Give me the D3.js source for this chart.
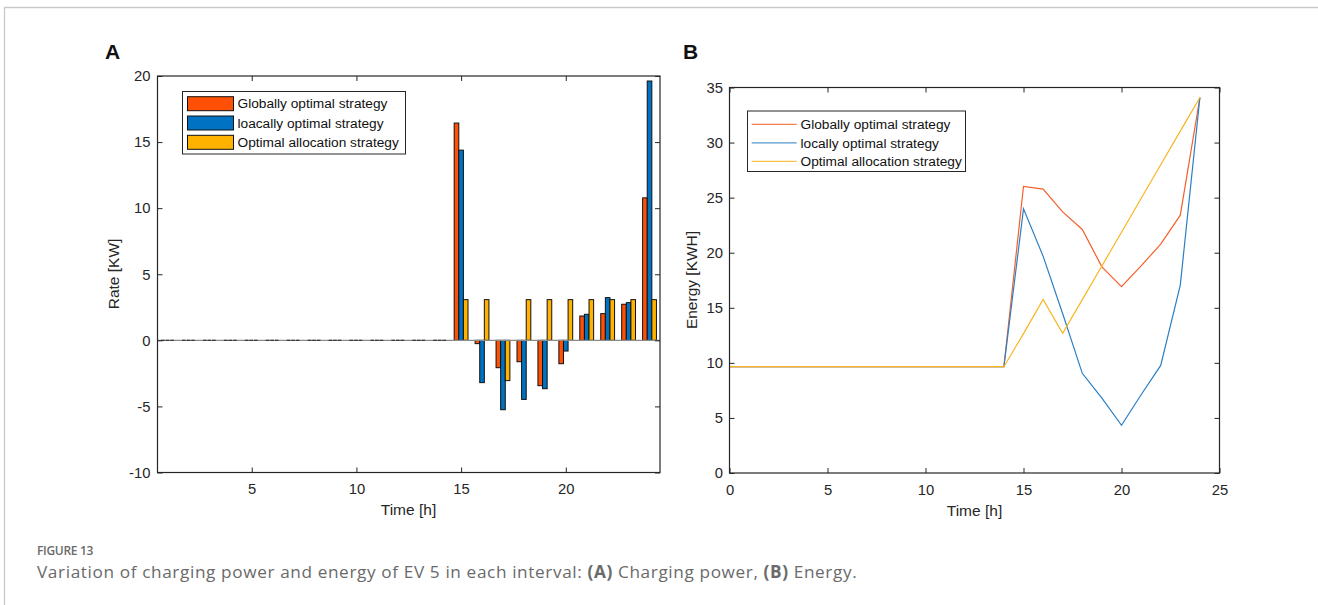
<!DOCTYPE html>
<html><head><meta charset="utf-8">
<script src="https://cdn.jsdelivr.net/npm/d3@7/dist/d3.min.js"></script>
<style>body{margin:0;background:#fff}svg{display:block}</style>
</head><body>
<svg id="c" width="1318" height="605"></svg>
<script>
// ---------- DATA ----------
const hours = [1,2,3,4,5,6,7,8,9,10,11,12,13,14,15,16,17,18,19,20,21,22,23,24];
const rateSeriesNames = ["Globally optimal strategy","loacally optimal strategy","Optimal allocation strategy"];
const globalRate = [0,0,0,0,0,0,0,0,0,0,0,0,0,0,16.44,-0.25,-2.07,-1.62,-3.43,-1.77,1.84,2.02,2.73,10.78];
const localRate  = [0,0,0,0,0,0,0,0,0,0,0,0,0,0,14.39,-3.2,-5.25,-4.47,-3.66,-0.81,1.97,3.23,2.85,19.62];
const allocRate  = [0,0,0,0,0,0,0,0,0,0,0,0,0,0,3.08,3.08,-3.05,3.08,3.08,3.08,3.08,3.08,3.08,3.08];

const times = [0,1,2,3,4,5,6,7,8,9,10,11,12,13,14,15,16,17,18,19,20,21,22,23,24];
const energySeriesNames = ["Globally optimal strategy","locally optimal strategy","Optimal allocation strategy"];
const globalEnergy = [9.65,9.65,9.65,9.65,9.65,9.65,9.65,9.65,9.65,9.65,9.65,9.65,9.65,9.65,9.65,26.02,25.77,23.71,22.11,18.72,16.91,18.8,20.78,23.41,34.09];
const localEnergy  = [9.65,9.65,9.65,9.65,9.65,9.65,9.65,9.65,9.65,9.65,9.65,9.65,9.65,9.65,9.65,23.98,19.69,14.46,9.05,6.8,4.33,7.1,9.77,17.06,34.09];
const allocEnergy  = [9.65,9.65,9.65,9.65,9.65,9.65,9.65,9.65,9.65,9.65,9.65,9.65,9.65,9.65,9.65,12.65,15.76,12.68,15.74,18.8,21.86,24.92,27.98,31.04,34.09];

const rateTicksX = [5,10,15,20];
const rateTicksY = [-10,-5,0,5,10,15,20];
const energyTicksX = [0,5,10,15,20,25];
const energyTicksY = [0,5,10,15,20,25,30,35];

// ---------- STYLE ----------
const barColors = ["#FF5005","#0072C4","#FFB300"];
const lineColors = ["#F5602A","#2A7FC4","#F8B520"];
const ax = "#262626";
const font = "'Liberation Sans', Arial, Helvetica, sans-serif";
const svg = d3.select("#c");
svg.append("rect").attr("width",1318).attr("height",605).attr("fill","#fff");

// frame
svg.append("path").attr("d","M4.5,605 V7.5 H1318").attr("fill","none").attr("stroke","#c9c9c9").attr("stroke-width",1.3);

function drawAxes(g, x, y, box, tx, ty, padX, padY){
  const fmt = d=>String(d);
  const bottom = d3.axisBottom(x).tickValues(tx).tickFormat(fmt).tickSizeInner(-5).tickSizeOuter(0).tickPadding(padX);
  const left = d3.axisLeft(y).tickValues(ty).tickFormat(fmt).tickSizeInner(-5).tickSizeOuter(0).tickPadding(padY);
  const top = d3.axisTop(x).tickValues(tx).tickSizeInner(-5).tickSizeOuter(0).tickFormat("");
  const right = d3.axisRight(y).tickValues(ty).tickSizeInner(-5).tickSizeOuter(0).tickFormat("");
  g.append("g").attr("transform",`translate(0,${box.b})`).call(bottom);
  g.append("g").attr("transform",`translate(${box.l},0)`).call(left);
  g.append("g").attr("transform",`translate(0,${box.t})`).call(top);
  g.append("g").attr("transform",`translate(${box.r},0)`).call(right);
  g.selectAll(".domain").remove();
  g.selectAll(".tick line").attr("stroke",ax).attr("stroke-width",1);
  g.selectAll(".tick text").attr("fill",ax).style("font-family",font).style("font-size","14.8px");
  g.append("rect").attr("x",box.l).attr("y",box.t).attr("width",box.r-box.l).attr("height",box.b-box.t)
    .attr("fill","none").attr("stroke",ax).attr("stroke-width",1.2);
}

// ---------- PANEL A ----------
const A = {l:157.5, r:660, t:76, b:472.5};
const xA = d3.scaleLinear().domain([0.5,24.5]).range([A.l,A.r]);
const yA = d3.scaleLinear().domain([-10,20]).range([A.b,A.t]);
const gA = svg.append("g");
const rateSeries = [globalRate, localRate, allocRate];
const bw = 0.22;
const offsets = [-bw, 0, bw];
rateSeries.forEach((vals,i)=>{
  const data = hours.map((h,k)=>({h, v:vals[k]}));
  gA.selectAll(null).data(data.filter(d=>d.v!==0)).enter().append("rect")
    .attr("x",d=>xA(d.h+offsets[i]-bw/2))
    .attr("width",xA(bw)-xA(0))
    .attr("y",d=>yA(Math.max(0,d.v)))
    .attr("height",d=>Math.abs(yA(d.v)-yA(0)))
    .attr("fill",barColors[i]).attr("stroke","#111").attr("stroke-width",1);
});
// baseline
gA.append("line").attr("x1",A.l).attr("x2",A.r).attr("y1",yA(0)).attr("y2",yA(0))
  .attr("stroke","#8c8c8c").attr("stroke-width",1.4);
// zero-height bars (edges only)
rateSeries.forEach((vals,i)=>{
  const data = hours.map((h,k)=>({h, v:vals[k]}));
  gA.selectAll(null).data(data.filter(d=>d.v===0)).enter().append("line")
    .attr("x1",d=>xA(d.h+offsets[i]-bw/2)).attr("x2",d=>xA(d.h+offsets[i]+bw/2)-1)
    .attr("y1",yA(0)).attr("y2",yA(0)).attr("stroke","#333").attr("stroke-width",1.2);
});
drawAxes(gA, xA, yA, A, rateTicksX, rateTicksY, 11, 7);

gA.append("text").attr("x",408.5).attr("y",515).attr("text-anchor","middle")
  .style("font-family",font).style("font-size","15.5px").attr("fill",ax).text("Time [h]");
gA.append("text").attr("transform",`translate(119,274) rotate(-90)`).attr("text-anchor","middle")
  .style("font-family",font).style("font-size","15.5px").attr("fill",ax).text("Rate [KW]");
svg.append("text").attr("x",105).attr("y",58.5).style("font-family",font).style("font-size","21px")
  .style("font-weight","bold").attr("fill","#111").text("A");

// legend A
const legA = gA.append("g");
legA.append("rect").attr("x",182.5).attr("y",91.5).attr("width",223).attr("height",62.5)
  .attr("fill","#fff").attr("stroke",ax).attr("stroke-width",1);
rateSeriesNames.forEach((n,i)=>{
  const cy = 103.7 + i*19.3;
  legA.append("rect").attr("x",187.5).attr("y",cy-7).attr("width",46).attr("height",14)
    .attr("fill",barColors[i]).attr("stroke","#111").attr("stroke-width",1);
  legA.append("text").attr("x",237.5).attr("y",cy).attr("dy","0.35em")
    .style("font-family",font).style("font-size","13.7px").attr("fill","#111").text(n);
});

// ---------- PANEL B ----------
const B = {l:729.5, r:1219.5, t:87.5, b:473};
const xB = d3.scaleLinear().domain([0,25]).range([B.l,B.r]);
const yB = d3.scaleLinear().domain([0,35]).range([B.b,B.t]);
const gB = svg.append("g");
const energySeries = [globalEnergy, localEnergy, allocEnergy];
const line = d3.line().x(d=>xB(d[0])).y(d=>yB(d[1]));
energySeries.forEach((vals,i)=>{
  gB.append("path").datum(times.map((t,k)=>[t,vals[k]])).attr("d",line)
    .attr("fill","none").attr("stroke",lineColors[i]).attr("stroke-width",1.2);
});
drawAxes(gB, xB, yB, B, energyTicksX, energyTicksY, 11.5, 6.5);

gB.append("text").attr("x",974.5).attr("y",516).attr("text-anchor","middle")
  .style("font-family",font).style("font-size","15.5px").attr("fill",ax).text("Time [h]");
gB.append("text").attr("transform",`translate(697,280) rotate(-90)`).attr("text-anchor","middle")
  .style("font-family",font).style("font-size","15.5px").attr("fill",ax).text("Energy [KWH]");
svg.append("text").attr("x",683).attr("y",58.5).style("font-family",font).style("font-size","21px")
  .style("font-weight","bold").attr("fill","#111").text("B");

const legB = gB.append("g");
legB.append("rect").attr("x",747.5).attr("y",111).attr("width",218).attr("height",60.5)
  .attr("fill","#fff").attr("stroke",ax).attr("stroke-width",1);
energySeriesNames.forEach((n,i)=>{
  const cy = 124.3 + i*18.5;
  legB.append("line").attr("x1",751.7).attr("x2",796.7).attr("y1",cy).attr("y2",cy)
    .attr("stroke",lineColors[i]).attr("stroke-width",1.2).attr("opacity",0.8);
  legB.append("text").attr("x",800.5).attr("y",cy).attr("dy","0.35em")
    .style("font-family",font).style("font-size","13.7px").attr("fill","#111").text(n);
});

// ---------- CAPTION ----------
const capFont = "'Open Sans', 'Noto Sans', sans-serif";
svg.append("text").attr("x",37).attr("y",555).style("font-family",capFont).style("font-size","12px")
  .style("letter-spacing","-0.3px").style("font-weight","600").attr("fill","#6a6a6a").text("FIGURE 13");
const cap = svg.append("text").attr("x",37).attr("y",577.5).style("font-family",capFont)
  .style("font-size","17.2px").style("letter-spacing","0.62px").attr("fill","#6a6a6a");
[["Variation of charging power and energy of EV 5 in each interval: ",false],["(A)",true],[" Charging power, ",false],["(B)",true],[" Energy.",false]]
  .forEach(([t,b])=>cap.append("tspan").style("font-weight",b?"700":"400").text(t));
</script>
</body></html>
